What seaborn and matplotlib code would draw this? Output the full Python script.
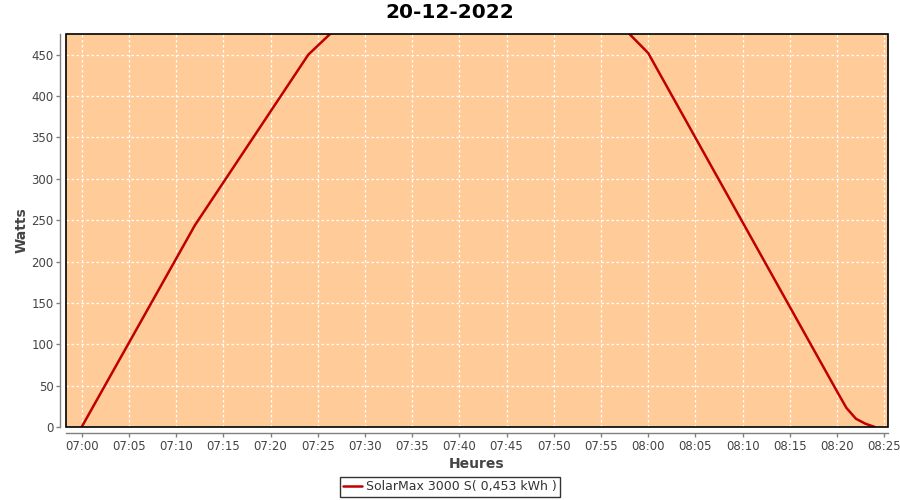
import pandas as pd
import numpy as np
import matplotlib
matplotlib.use('Agg')
import matplotlib.pyplot as plt
import matplotlib.dates as mdates
from matplotlib.patches import Rectangle
import seaborn as sns

# values (line is clipped above 475 W)
heures = ['07:00', '07:12', '07:24', '07:30', '07:45', '07:55', '08:00',
          '08:20', '08:21', '08:22', '08:23', '08:24']
watts = [0, 244, 450, 515, 560, 510, 452, 43, 23, 10, 4, 0]
serie = 'SolarMax 3000 S( 0,453 kWh )'

df = pd.DataFrame({'Heures': pd.to_datetime(['2022-12-20 ' + h for h in heures]),
                   'Watts': watts, 'serie': serie})

sns.set_style('white')
fig = plt.figure(figsize=(9, 5), dpi=100)
ax = fig.add_axes([66/900, 1 - 427/500, (888-66)/900, (427-34)/500])
ax.set_facecolor('#FFCC99')

sns.lineplot(data=df, x='Heures', y='Watts', hue='serie', palette=['#C00000'],
             linewidth=1.8, ax=ax, legend=True)

t0 = pd.Timestamp('2022-12-20 07:00')
ax.set_xlim(t0 - pd.Timedelta(minutes=1.66), t0 + pd.Timedelta(minutes=85.4))
ax.set_ylim(0, 475)
ax.set_yticks(range(0, 451, 50))
ax.xaxis.set_major_locator(mdates.MinuteLocator(byminute=range(0, 60, 5)))
ax.xaxis.set_major_formatter(mdates.DateFormatter('%H:%M'))

ax.grid(True, color='white', linestyle=(0, (2, 2)), linewidth=0.9)
ax.set_axisbelow(True)

# gray axis lines offset from the plot, black plot outline
for s in ['left', 'bottom']:
    ax.spines[s].set_position(('outward', 4))
    ax.spines[s].set_color('#808080')
    ax.spines[s].set_linewidth(1.0)
for s in ['top', 'right']:
    ax.spines[s].set_visible(False)
ax.add_patch(Rectangle((0, 0), 1, 1, transform=ax.transAxes, fill=False,
                       edgecolor='black', linewidth=1.2, zorder=5, clip_on=False))

ax.tick_params(axis='both', direction='out', length=3, width=1, color='#808080',
               labelsize=8.5, labelcolor='#444444', pad=2, left=True, bottom=True)

ax.set_xlabel('Heures', fontsize=10, fontweight='bold', color='#444444', labelpad=3)
ax.set_ylabel('Watts', fontsize=10, fontweight='bold', color='#444444', labelpad=2)
fig.suptitle('20-12-2022', fontsize=14.5, fontweight='bold', color='black', y=0.995)

handles, labels = ax.get_legend_handles_labels()
ax.get_legend().remove()
leg = fig.legend(handles, labels, loc='lower center', bbox_to_anchor=(0.5, 0.006),
                 fontsize=9, frameon=True, fancybox=False, edgecolor='black',
                 handlelength=1.5, borderpad=0.3, handletextpad=0.3, borderaxespad=0)
leg.get_frame().set_linewidth(1.0)
for t in leg.get_texts():
    t.set_color('#333333')

plt.savefig('out.png', dpi=100)
